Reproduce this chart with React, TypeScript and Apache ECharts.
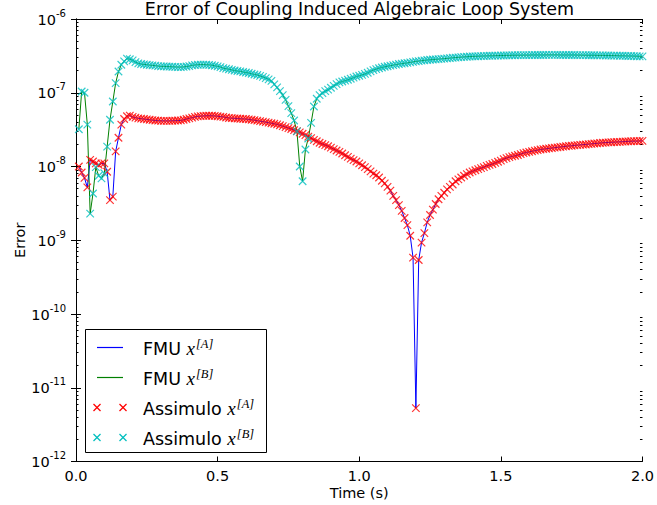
import React, { useEffect, useRef } from 'react';
import * as echarts from 'echarts';

const TITLE = 'Error of Coupling Induced Algebraic Loop System';
const X_LABEL = 'Time (s)';
const Y_LABEL = 'Error';
const X_MIN = 0;
const X_MAX = 2;
const X_INTERVAL = 0.5;
const Y_MIN_EXP = -12;
const Y_MAX_EXP = -6;
const TIME_STEP = 0.01;

const LEGEND_NAMES = ['FMU', 'FMU', 'Assimulo', 'Assimulo'];
const LEGEND_VARS = ['[A]', '[B]', '[A]', '[B]'];

// FMU / Assimulo error of x[A], t = 0.01 ... 2.00
const ERR_A = [
  1.0e-8, 8.3e-9, 7.0e-9, 5.2e-9, 1.23e-8, 1.17e-8, 1.1e-8, 1.05e-8, 1.1e-8, 1.1e-8,
  8.5e-9, 3.5e-9, 3.9e-9, 1.6e-8, 2.45e-8, 3.7e-8, 4.4e-8, 4.8e-8, 4.9e-8, 4.7e-8,
  4.6e-8, 4.5e-8, 4.45e-8, 4.4e-8, 4.35e-8, 4.3e-8, 4.25e-8, 4.2e-8, 4.18e-8, 4.16e-8,
  4.15e-8, 4.15e-8, 4.15e-8, 4.17e-8, 4.18e-8, 4.2e-8, 4.22e-8, 4.3e-8, 4.4e-8, 4.5e-8,
  4.6e-8, 4.7e-8, 4.78e-8, 4.82e-8, 4.85e-8, 4.88e-8, 4.88e-8, 4.87e-8, 4.85e-8, 4.8e-8,
  4.75e-8, 4.7e-8, 4.62e-8, 4.55e-8, 4.52e-8, 4.5e-8, 4.47e-8, 4.44e-8, 4.42e-8, 4.4e-8,
  4.35e-8, 4.3e-8, 4.25e-8, 4.18e-8, 4.12e-8, 4.06e-8, 4.0e-8, 3.93e-8, 3.86e-8, 3.8e-8,
  3.72e-8, 3.62e-8, 3.52e-8, 3.42e-8, 3.32e-8, 3.22e-8, 3.12e-8, 3.02e-8, 2.9e-8, 2.78e-8,
  2.66e-8, 2.54e-8, 2.42e-8, 2.3e-8, 2.2e-8, 2.1e-8, 2.02e-8, 1.95e-8, 1.88e-8, 1.8e-8,
  1.72e-8, 1.65e-8, 1.58e-8, 1.5e-8, 1.42e-8, 1.35e-8, 1.28e-8, 1.22e-8, 1.17e-8, 1.1e-8,
  1.04e-8, 9.8e-9, 9.2e-9, 8.6e-9, 8.0e-9, 7.6e-9, 7.1e-9, 6.4e-9, 5.9e-9, 5.3e-9,
  4.7e-9, 4.0e-9, 3.5e-9, 3.0e-9, 2.5e-9, 2.0e-9, 1.6e-9, 1.15e-9, 5.8e-10, 5.3e-12,
  5.4e-10, 9.3e-10, 1.25e-9, 1.75e-9, 2.2e-9, 2.6e-9, 3.1e-9, 3.6e-9, 4.0e-9, 4.4e-9,
  4.9e-9, 5.3e-9, 5.7e-9, 6.3e-9, 6.7e-9, 7.1e-9, 7.5e-9, 7.9e-9, 8.3e-9, 8.6e-9,
  8.9e-9, 9.2e-9, 9.5e-9, 9.8e-9, 1.02e-8, 1.05e-8, 1.08e-8, 1.12e-8, 1.16e-8, 1.2e-8,
  1.26e-8, 1.3e-8, 1.34e-8, 1.37e-8, 1.4e-8, 1.43e-8, 1.47e-8, 1.52e-8, 1.55e-8, 1.58e-8,
  1.61e-8, 1.64e-8, 1.67e-8, 1.7e-8, 1.72e-8, 1.74e-8, 1.76e-8, 1.78e-8, 1.8e-8, 1.82e-8,
  1.84e-8, 1.86e-8, 1.88e-8, 1.9e-8, 1.91e-8, 1.93e-8, 1.95e-8, 1.96e-8, 1.98e-8, 1.99e-8,
  2.01e-8, 2.03e-8, 2.05e-8, 2.06e-8, 2.08e-8, 2.1e-8, 2.11e-8, 2.12e-8, 2.13e-8, 2.14e-8,
  2.15e-8, 2.16e-8, 2.17e-8, 2.18e-8, 2.19e-8, 2.2e-8, 2.21e-8, 2.21e-8, 2.22e-8, 2.23e-8,
];

// FMU / Assimulo error of x[B], t = 0.01 ... 2.00
const ERR_B = [
  3.2e-8, 1.04e-7, 1.0e-7, 3.7e-8, 2.3e-9, 4.3e-9, 9.8e-9, 7.5e-9, 6.9e-9, 8.1e-9,
  1.86e-8, 4.3e-8, 7.6e-8, 1.35e-7, 1.94e-7, 2.4e-7, 2.66e-7, 2.9e-7, 2.85e-7, 2.75e-7,
  2.6e-7, 2.5e-7, 2.45e-7, 2.42e-7, 2.4e-7, 2.37e-7, 2.35e-7, 2.33e-7, 2.3e-7, 2.28e-7,
  2.28e-7, 2.27e-7, 2.26e-7, 2.25e-7, 2.24e-7, 2.23e-7, 2.23e-7, 2.24e-7, 2.27e-7, 2.3e-7,
  2.35e-7, 2.38e-7, 2.4e-7, 2.41e-7, 2.41e-7, 2.4e-7, 2.39e-7, 2.36e-7, 2.32e-7, 2.28e-7,
  2.23e-7, 2.16e-7, 2.12e-7, 2.08e-7, 2.04e-7, 2.0e-7, 1.97e-7, 1.95e-7, 1.91e-7, 1.88e-7,
  1.85e-7, 1.81e-7, 1.77e-7, 1.74e-7, 1.69e-7, 1.64e-7, 1.58e-7, 1.52e-7, 1.45e-7, 1.3e-7,
  1.18e-7, 1.05e-7, 9.3e-8, 8.0e-8, 6.6e-8, 5.3e-8, 4.2e-8, 3.0e-8, 1.0e-8, 6.3e-9,
  1.7e-8, 2.4e-8, 3.9e-8, 6.5e-8, 8.3e-8, 9.3e-8, 9.9e-8, 1.05e-7, 1.1e-7, 1.17e-7,
  1.24e-7, 1.31e-7, 1.38e-7, 1.42e-7, 1.46e-7, 1.5e-7, 1.55e-7, 1.6e-7, 1.66e-7, 1.7e-7,
  1.75e-7, 1.8e-7, 1.87e-7, 1.95e-7, 2.03e-7, 2.09e-7, 2.15e-7, 2.2e-7, 2.25e-7, 2.29e-7,
  2.33e-7, 2.37e-7, 2.41e-7, 2.45e-7, 2.48e-7, 2.51e-7, 2.54e-7, 2.58e-7, 2.62e-7, 2.66e-7,
  2.69e-7, 2.72e-7, 2.75e-7, 2.78e-7, 2.8e-7, 2.82e-7, 2.84e-7, 2.86e-7, 2.88e-7, 2.9e-7,
  2.92e-7, 2.95e-7, 2.98e-7, 3.0e-7, 3.02e-7, 3.04e-7, 3.06e-7, 3.08e-7, 3.1e-7, 3.11e-7,
  3.12e-7, 3.13e-7, 3.14e-7, 3.15e-7, 3.16e-7, 3.17e-7, 3.17e-7, 3.18e-7, 3.19e-7, 3.2e-7,
  3.2e-7, 3.21e-7, 3.21e-7, 3.22e-7, 3.22e-7, 3.23e-7, 3.23e-7, 3.24e-7, 3.24e-7, 3.24e-7,
  3.25e-7, 3.25e-7, 3.25e-7, 3.25e-7, 3.25e-7, 3.26e-7, 3.26e-7, 3.26e-7, 3.26e-7, 3.26e-7,
  3.25e-7, 3.25e-7, 3.25e-7, 3.25e-7, 3.25e-7, 3.25e-7, 3.24e-7, 3.24e-7, 3.23e-7, 3.23e-7,
  3.22e-7, 3.22e-7, 3.22e-7, 3.21e-7, 3.21e-7, 3.21e-7, 3.2e-7, 3.2e-7, 3.19e-7, 3.19e-7,
  3.18e-7, 3.17e-7, 3.17e-7, 3.16e-7, 3.15e-7, 3.15e-7, 3.14e-7, 3.13e-7, 3.12e-7, 3.11e-7,
];

const TIME = ERR_A.map((_, i) => Math.round((i + 1) * TIME_STEP * 100) / 100);

const COLORS = ['#0000ff', '#008000', '#ff0000', '#00bfbf'];
const FONT = 'DejaVu Sans';
const SERIF = 'Liberation Serif';

const MINOR_TICKS: number[] = [];
for (let e = Y_MIN_EXP; e < Y_MAX_EXP; e++) {
  for (let k = 2; k <= 9; k++) MINOR_TICKS.push(e + Math.log10(k));
}

const CROSS = 'path://M0 0L10 10M10 0L0 10';

export default function App() {
  const ref = useRef<HTMLDivElement>(null);
  useEffect(() => {
    if (!ref.current) return;
    const chart = echarts.init(ref.current, null, { renderer: 'svg' });

    const axisLine = { show: true, lineStyle: { color: '#000', width: 1 } };
    const majorTick = { show: true, inside: true, length: 5, lineStyle: { color: '#000', width: 1 } };
    const minorTick = { show: true, inside: true, length: 2.5, customValues: MINOR_TICKS, lineStyle: { color: '#000', width: 1 } };

    const pairs = (arr: number[]) => TIME.map((t, i) => [t, arr[i]]);

    // legend drawn with graphic elements
    const LX = 85.5, LY = 329.5, LW = 181, LH = 123;
    const rows = [347.5, 377.5, 407.5, 437.5];
    const legendEls: any[] = [
      { type: 'rect', shape: { x: LX, y: LY, width: LW, height: LH }, style: { fill: '#fff', stroke: '#000', lineWidth: 1 }, z: 100 },
    ];
    rows.forEach((y, i) => {
      if (i < 2) {
        legendEls.push({ type: 'line', shape: { x1: 97, y1: y, x2: 123, y2: y }, style: { stroke: COLORS[i], lineWidth: 1.2 }, z: 101 });
      } else {
        [97, 123].forEach((cx) => {
          legendEls.push({ type: 'line', shape: { x1: cx - 3.5, y1: y - 3.5, x2: cx + 3.5, y2: y + 3.5 }, style: { stroke: COLORS[i], lineWidth: 1.2 }, z: 101 });
          legendEls.push({ type: 'line', shape: { x1: cx - 3.5, y1: y + 3.5, x2: cx + 3.5, y2: y - 3.5 }, style: { stroke: COLORS[i], lineWidth: 1.2 }, z: 101 });
        });
      }
      legendEls.push({
        type: 'text', x: 143, y: y, z: 101,
        style: {
          text: `{n|${LEGEND_NAMES[i]} }{m|x}{s|${LEGEND_VARS[i]}}`,
          verticalAlign: 'middle', align: 'left',
          rich: {
            n: { fontFamily: FONT, fontSize: 17.5, lineHeight: 20, verticalAlign: 'bottom', fill: '#000' },
            m: { fontFamily: SERIF, fontStyle: 'italic', fontSize: 19, lineHeight: 20, verticalAlign: 'bottom', fill: '#000' },
            s: { fontFamily: SERIF, fontStyle: 'italic', fontSize: 12.5, lineHeight: 13, padding: [0, 0, 7, 1], verticalAlign: 'bottom', fill: '#000' },
          },
        },
      });
    });

    const yMajorLabel = {
      show: true,
      margin: 10,
      formatter: (v: number) => `{b|10}{s|${Math.round(Math.log10(v))}}`,
      rich: {
        b: { fontFamily: FONT, fontSize: 14.5, lineHeight: 16, verticalAlign: 'bottom', color: '#000' },
        s: { fontFamily: FONT, fontSize: 10, lineHeight: 11, padding: [0, 0, 9, 0], verticalAlign: 'bottom', color: '#000' },
      },
    };

    const option: any = {
      animation: false,
      backgroundColor: '#fff',
      textStyle: { fontFamily: FONT },
      title: {
        text: TITLE, left: 359.5, top: 0, padding: 0, textAlign: 'center',
        textStyle: { fontFamily: FONT, fontSize: 17.5, fontWeight: 'normal', color: '#000' },
      },
      grid: { left: 76, top: 19, right: 14, bottom: 43, containLabel: false },
      xAxis: [
        {
          type: 'value', min: X_MIN, max: X_MAX, interval: X_INTERVAL, position: 'bottom',
          axisLine, axisTick: majorTick, splitLine: { show: false },
          axisLabel: { margin: 7, fontSize: 14.5, color: '#000', fontFamily: FONT, formatter: (v: number) => v.toFixed(1) },
          name: X_LABEL, nameLocation: 'middle', nameGap: 23.5, nameMoveOverlap: false,
          nameTextStyle: { fontFamily: FONT, fontSize: 14.5, color: '#000' },
        },
        {
          type: 'value', min: X_MIN, max: X_MAX, interval: X_INTERVAL, position: 'top',
          axisLine, axisTick: majorTick, splitLine: { show: false }, axisLabel: { show: false },
        },
      ],
      yAxis: [
        {
          type: 'log', logBase: 10, min: Math.pow(10, Y_MIN_EXP), max: Math.pow(10, Y_MAX_EXP), splitNumber: 6,
          position: 'left', axisLine, axisTick: majorTick, splitLine: { show: false },
          axisLabel: yMajorLabel,
          name: Y_LABEL, nameLocation: 'middle', nameGap: 49, nameRotate: 90, nameMoveOverlap: false,
          nameTextStyle: { fontFamily: FONT, fontSize: 14.5, color: '#000' },
        },
        {
          type: 'log', logBase: 10, min: Math.pow(10, Y_MIN_EXP), max: Math.pow(10, Y_MAX_EXP), splitNumber: 6,
          position: 'right', axisLine, axisTick: majorTick, splitLine: { show: false }, axisLabel: { show: false },
        },
        {
          type: 'value', min: Y_MIN_EXP, max: Y_MAX_EXP, position: 'left',
          axisLine: { show: false }, axisTick: minorTick, splitLine: { show: false }, axisLabel: { show: false },
        },
        {
          type: 'value', min: Y_MIN_EXP, max: Y_MAX_EXP, position: 'right',
          axisLine: { show: false }, axisTick: minorTick, splitLine: { show: false }, axisLabel: { show: false },
        },
      ],
      series: [
        {
          name: 'FMU x[A]', type: 'line', data: pairs(ERR_A), xAxisIndex: 0, yAxisIndex: 0,
          symbol: 'none', showSymbol: false, lineStyle: { color: COLORS[0], width: 1 }, z: 2,
        },
        {
          name: 'FMU x[B]', type: 'line', data: pairs(ERR_B), xAxisIndex: 0, yAxisIndex: 0,
          symbol: 'none', showSymbol: false, lineStyle: { color: COLORS[1], width: 1 }, z: 3,
        },
        {
          name: 'Assimulo x[A]', type: 'scatter', data: pairs(ERR_A), xAxisIndex: 0, yAxisIndex: 0,
          symbol: CROSS, symbolSize: 7.5, itemStyle: { color: 'transparent', borderColor: COLORS[2], borderWidth: 1.2 }, z: 4,
        },
        {
          name: 'Assimulo x[B]', type: 'scatter', data: pairs(ERR_B), xAxisIndex: 0, yAxisIndex: 0,
          symbol: CROSS, symbolSize: 7.5, itemStyle: { color: 'transparent', borderColor: COLORS[3], borderWidth: 1.2 }, z: 5,
        },
      ],
      graphic: legendEls,
    };
    chart.setOption(option);
    return () => chart.dispose();
  }, []);
  return <div ref={ref} style={{ width: 657, height: 505, position: 'absolute', left: 0, top: 0 }} />;
}
